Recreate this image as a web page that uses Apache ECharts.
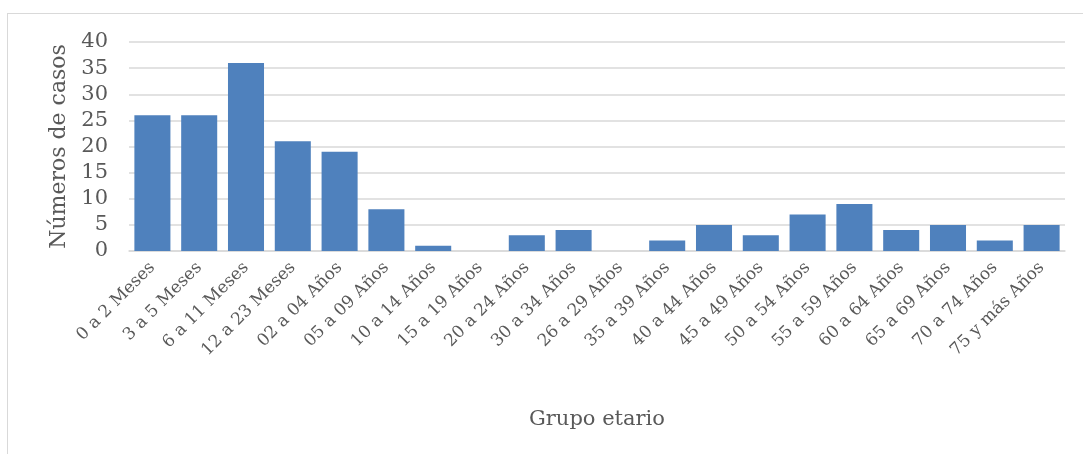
<!DOCTYPE html>
<html>
<head>
<meta charset="utf-8">
<script src="https://cdn.jsdelivr.net/npm/echarts@6/dist/echarts.min.js"></script>
<style>
  html, body { margin: 0; padding: 0; background: #fff; }
  #frame { position: absolute; left: 7px; top: 13px; width: 1090px; height: 460px; border: 1px solid #d9d9d9; box-sizing: border-box; }
  #chart { position: absolute; left: 0; top: 0; width: 1083px; height: 454px; }
</style>
</head>
<body>
<div id="frame"></div>
<div id="chart"></div>
<script>
// grupos de edad
const categories = [
  '0 a 2 Meses', '3 a 5 Meses', '6 a 11 Meses', '12 a 23 Meses', '02 a 04 Años',
  '05 a 09 Años', '10 a 14 Años', '15 a 19 Años', '20 a 24 Años', '30 a 34 Años',
  '26 a 29 Años', '35 a 39 Años', '40 a 44 Años', '45 a 49 Años', '50 a 54 Años',
  '55 a 59 Años', '60 a 64 Años', '65 a 69 Años', '70 a 74 Años', '75 y más Años'
]
const casos = [26, 26, 36, 21, 19, 8, 1, 0, 3, 4, 0, 2, 5, 3, 7, 9, 4, 5, 2, 5]

const fontFam = '"DejaVu Serif", "Liberation Serif", serif'
const chart = echarts.init(document.getElementById('chart'))

chart.setOption({
  animation: false,
  grid: { left: 129, right: 18, top: 42, bottom: 203, containLabel: false },
  xAxis: {
    type: 'category',
    data: categories,
    name: 'Grupo etario',
    nameLocation: 'middle',
    nameGap: 158,
    nameTextStyle: { color: '#595959', fontSize: 21, fontFamily: fontFam },
    axisLine: { lineStyle: { color: '#d9d9d9', width: 1.5 } },
    axisTick: { show: false },
    axisLabel: {
      interval: 0,
      rotate: 45,
      margin: 14,
      color: '#595959',
      fontSize: 17,
      fontFamily: fontFam
    }
  },
  yAxis: {
    type: 'value',
    min: 0,
    max: 40,
    interval: 5,
    name: 'Números de casos',
    nameLocation: 'middle',
    nameGap: 59,
    nameTextStyle: { color: '#595959', fontSize: 22, fontFamily: fontFam },
    axisLine: { show: false },
    axisTick: { show: false },
    axisLabel: { color: '#595959', fontSize: 21, fontFamily: fontFam, margin: 21 },
    splitLine: { lineStyle: { color: '#d9d9d9', width: 1.5 } }
  },
  series: [{
    type: 'bar',
    data: casos,
    barCategoryGap: '23%',
    itemStyle: { color: '#4f81bd' }
  }]
})
</script>
</body>
</html>
